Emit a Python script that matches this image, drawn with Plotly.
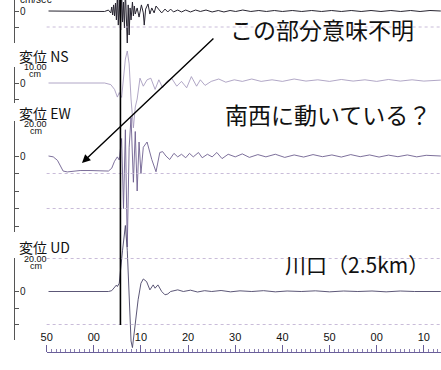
import plotly.graph_objects as go

W, H = 441, 370

# ---------------- data (time in s after the minute mark, values in cm or cm/s) -------------
TICK_T = [-10, 0, 10, 20, 30, 40, 50, 60, 70]
TICK_LABELS = ["50", "00", "10", "20", "30", "40", "50", "00", "10"]
MARK_T = 5.65

VEL_T = [-9.6, -6.0, -2.0, 2.3, 3.1, 3.6, 3.8, 4.0, 4.2, 4.4, 4.6, 4.8, 5.0, 5.2, 5.4, 5.7, 5.9, 6.1,
         6.3, 6.5, 6.7, 6.9, 7.1, 7.3, 7.5, 7.7, 7.9, 8.2, 8.4, 8.6, 8.8, 9.2, 9.6, 10.1, 10.5, 10.7,
         11.0, 11.5, 11.9, 12.3, 12.8, 13.2, 13.8, 14.4, 15.1, 15.7, 16.3, 16.9, 17.8, 18.6, 19.5,
         20.5, 21.6, 22.6, 23.8, 25.1, 26.4, 27.6, 28.9, 30.1, 31.6, 33.3, 35.0, 36.6, 38.3, 40.0,
         42.1, 44.1, 46.2, 48.3, 50.4, 52.5, 54.6, 56.7, 58.8, 60.9, 63.0, 65.1, 67.2, 69.2, 71.3, 73.6]
VEL_V = [0, 0, 0, -0.3, 0.6, -1.2, 2.5, -2.5, 3.8, -3.1, 5.0, -5.6, 10, -8.8, 6.9, -11.9, 11.9, -6.9,
         5.6, -10.6, 13, -4.4, -20, 3.8, -15, 1.9, -5.6, 5.6, -3.1, 3.1, -1.9, 1.9, -3.8, 3.8, -1.2, -8.8,
         1.2, 4.4, -1.9, 1.9, -1.2, 3.1, 0.6, -1.2, 1.2, -0.6, 1.2, -0.6, 0.6, -0.6, 0.6,
         -0.6, 0.6, -0.3, 0.6, -0.6, 0.3, -0.6, 0.3, -0.3, 0.6, -0.3, 0.3, -0.3, 0.3, -0.3,
         0.3, -0.3, 0.3, -0.3, 0.3, -0.3, 0.3, -0.3, 0.3, -0.3, 0.3, -0.3, 0.3, -0.3, 0.3, 0]

NS_T = [-9.6, 0.0, 2.3, 3.6, 4.4, 5.0, 5.4, 5.9, 6.3, 6.7, 7.1, 7.5, 7.9, 8.4, 8.8, 9.2, 9.8, 10.5,
        11.3, 12.1, 13.0, 13.8, 14.6, 15.5, 16.5, 17.6, 18.6, 19.7, 20.7, 21.8, 22.6, 23.6, 24.9,
        26.5, 28.0, 29.8, 31.5, 33.5, 35.5, 37.8, 40.0, 42.5, 45.0, 47.5, 50.0, 52.5, 55.0, 57.5,
        60.0, 62.5, 65.0, 67.5, 70.0, 73.6]
NS_V = [0, 0, 0, -1, -4, -8.8, -6, -9, 5, 15, 20, 12, -10, -28, -15, -10, 3, -2,
        2, 3, -4, 2, -3, 1, 3, -2, 1, -3, 4, -2, 2, -1.5, 1,
        2.5, 0.5, 2, 1, 2.5, 1, 2, 1, 2.5, 1.2, 2, 1, 2.2, 1.2, 2,
        1, 2.2, 1.2, 2, 1.2, 1.8]

EW_T = [-9.6, -8.6, -7.7, -7.1, -6.5, -5.6, -4.4, -2.9, -0.8, 1.3, 3.1, 3.8, 4.4, 5.0, 5.4, 5.9,
        6.3, 6.7, 7.1, 7.5, 7.9, 8.4, 8.8, 9.2, 9.6, 10.0, 10.5, 11.3, 12.3, 13.2, 14.0, 14.6,
        15.3, 16.1, 17.0, 17.8, 18.6, 19.5, 20.3, 21.1, 22.2, 23.0, 24.1, 25.1, 26.1, 27.2, 28.5,
        30.0, 31.5, 33.0, 34.8, 36.5, 38.5, 40.5, 42.5, 44.5, 46.5, 48.5, 50.5, 52.5, 54.5, 56.5,
        58.5, 60.5, 62.5, 64.5, 66.5, 68.5, 70.5, 73.6]
EW_V = [0, -0.5, -2.5, -6, -8.6, -9.1, -8.6, -8.3, -8.3, -8.6, -8.6, -7, -3, -0.5, -2.3, 10,
        -30, 15, -52, 5, 22, -15, 14, -20, 8, -10, 5, 8, -2, -9, 2, 2.5,
        0, -2, 1.5, -0.5, 1, -1, 1.5, -0.5, 2, -1, 1, -0.5, 2, -1.5, 1,
        -0.5, 1.2, -0.8, 0.8, -0.5, 1, -0.8, 0.6, -0.6, 0.8, -0.4, 0.6, -0.6, 0.8, -0.4,
        0.6, -0.6, 0.5, -0.4, 0.6, -0.5, 0.4, 0]

UD_T = [-9.6, 0.0, 3.1, 3.8, 4.4, 4.8, 5.0, 5.4, 6.1, 6.7, 7.1, 7.5, 7.9, 8.2, 8.8, 9.4, 10.0,
        10.5, 11.2, 11.9, 12.6, 13.0, 13.6, 14.4, 15.1, 15.7, 16.3, 17.2, 17.8, 19.0, 20.5, 22.0,
        23.5, 25.0, 27.0, 29.0, 31.0, 33.5, 36.0, 38.5, 41.0, 44.0, 47.0, 50.0, 53.0, 56.0, 59.0,
        62.0, 65.0, 68.0, 71.0, 73.6]
UD_V = [0, 0, 0, 0.5, 2.5, 3.9, 3, 5, 25, 40, 25, -5, -30, -34, -20, -5, 5,
        7.6, 6, 1, 4, 2, 4, 0, -2, -1.5, 0, 0.5, 1, 0, 0.8, -0.3,
        0.5, 0, 0.6, -0.2, 0.4, 0, 0.5, -0.2, 0.3, 0, 0.4, -0.2, 0.3, 0, 0.3,
        -0.2, 0.3, 0, 0.2, 0]

# ---------------- layout geometry (pixels of the 441x370 page) ----------------
T0_PX, PX_PER_S = 89.0, 4.78
AXIS_X_PX = 8
# name, axis top, axis bottom, zero line, px per unit, tick values
PANELS = [
    ("vel", 0, 43, 11, 1.6, [0, -10, -20]),
    ("ns", 67, 103, 83, 1.6, [10, 0, -10]),
    ("ew", 121, 232, 156, 1.75, [20, 0, -10, -20, -30, -40]),
    ("ud", 258, 340, 291.5, 1.65, [20, 0, -10, -20]),
]
SERIES = [(VEL_T, VEL_V, "#26232f", 1.0),
          (NS_T, NS_V, "#9d90b8", 0.8),
          (EW_T, EW_V, "#6e6090", 0.9),
          (UD_T, UD_V, "#4a4468", 0.9)]

def py(p):
    return 1 - p / H

fig = go.Figure()
layout_axes = {}
n = len(PANELS)
for i, (name, top, bot, zero, s, tv) in enumerate(PANELS):
    vis = i + 1
    hid = i + 1 + n
    fig.add_trace(go.Scatter(x=[None], y=[None], xaxis="x", yaxis="y" if vis == 1 else f"y{vis}",
                             showlegend=False, hoverinfo="skip"))
    layout_axes["yaxis" if vis == 1 else f"yaxis{vis}"] = dict(
        anchor="free", position=AXIS_X_PX / W, domain=[py(bot), py(top)],
        range=[(zero - bot) / s, (zero - top) / s],
        showline=True, linecolor="#555", linewidth=1,
        ticks="inside", ticklen=4, tickcolor="#555",
        tickvals=tv, ticktext=["0" if v == 0 else "" for v in tv],
        ticklabelposition="inside",
        tickfont=dict(size=10, color="#222", family="Liberation Sans"),
        showgrid=False, zeroline=False, fixedrange=True)
    t, v, col, lw = SERIES[i]
    fig.add_trace(go.Scatter(x=t, y=v, xaxis="x", yaxis=f"y{hid}", mode="lines",
                             line=dict(color=col, width=lw), showlegend=False, hoverinfo="skip"))
    layout_axes[f"yaxis{hid}"] = dict(domain=[0, 1], anchor="x", visible=False,
                                      range=[(zero - H) / s, zero / s], fixedrange=True)

x_left_px = T0_PX + TICK_T[0] * PX_PER_S
fig.update_layout(
    width=W, height=H, margin=dict(l=0, r=0, t=0, b=0),
    paper_bgcolor="white", plot_bgcolor="rgba(0,0,0,0)",
    xaxis=dict(domain=[x_left_px / W, 1], range=[TICK_T[0], (W - T0_PX) / PX_PER_S],
               anchor="free", position=py(352), side="top",
               showline=True, linecolor="#6a5f9a", linewidth=1,
               ticks="outside", ticklen=7, tickcolor="#6a5f9a",
               tickvals=TICK_T, ticktext=TICK_LABELS,
               tickfont=dict(size=11, color="#111", family="Liberation Sans"),
               minor=dict(ticks="outside", ticklen=3, dtick=1, tick0=0, tickcolor="#8a80b0", showgrid=False),
               showgrid=False, zeroline=False, fixedrange=True),
    **layout_axes,
)

grid = [("y", -10), ("y3", -10), ("y3", -30), ("y4", 20), ("y4", -20)]
for yr, val in grid:
    fig.add_shape(type="line", xref="x domain", x0=0, x1=1, yref=yr, y0=val, y1=val,
                  line=dict(color="#c9bcd9", width=1, dash="dot"))

fig.add_shape(type="line", xref="x", x0=MARK_T, x1=MARK_T, yref="paper", y0=py(325), y1=1,
              line=dict(color="black", width=1.6))

JP = "Noto Sans CJK JP"
LAT = "Liberation Sans"

def txt(s, xpx, ypx, size, family, anchor="left"):
    fig.add_annotation(text=s, xref="paper", yref="paper", x=xpx / W, y=py(ypx),
                       xanchor=anchor, yanchor="middle", showarrow=False,
                       font=dict(size=size, family=family, color="#111"))

txt("cm/sec", 12, -1, 10, LAT)
txt("変位 NS", 11, 56, 14, JP)
txt("10.00", 29.5, 66.5, 9, LAT, "center")
txt("cm", 29, 74, 9, LAT, "center")
txt("変位 EW", 11, 112.5, 14, JP)
txt("20.00", 30, 123.5, 9, LAT, "center")
txt("cm", 30, 130.5, 9, LAT, "center")
txt("変位 UD", 11, 247, 14, JP)
txt("20.00", 30, 258.5, 9, LAT, "center")
txt("cm", 30, 265.5, 9, LAT, "center")

txt("この部分意味不明", 225, 29, 23, JP)
txt("南西に動いている？", 220, 114, 23, JP)
txt("川口（2.5km）", 281, 264, 21, JP)

fig.add_annotation(text="", xref="x", yref="paper", x=(77 - T0_PX) / PX_PER_S, y=py(163),
                   ax=133, ay=-126, showarrow=True, arrowhead=2, arrowsize=1.2,
                   arrowwidth=1.4, arrowcolor="black", standoff=0)

fig.write_html("out.html", config={"displayModeBar": False},
               post_script="document.body.style.margin='0';document.body.style.padding='0';"
                           "document.documentElement.style.overflow='hidden';")
